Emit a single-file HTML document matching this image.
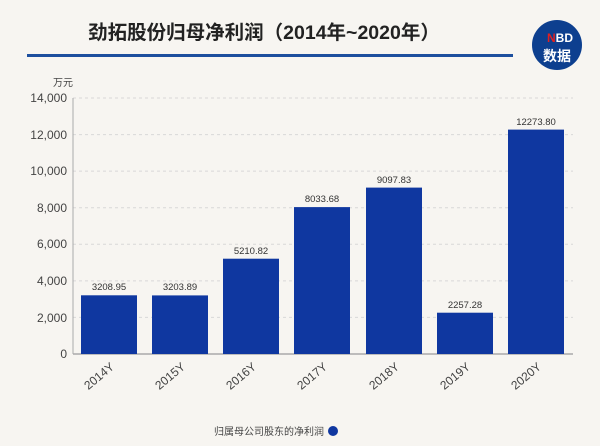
<!DOCTYPE html><html><head><meta charset="utf-8"><style>
body{margin:0;width:600px;height:446px;background:#f7f5f1;overflow:hidden;font-family:"Liberation Sans","Noto Sans CJK SC",sans-serif}
</style></head><body>
<svg width="600" height="446" xmlns="http://www.w3.org/2000/svg" style="position:absolute;left:0;top:0">
<rect x="0" y="0" width="600" height="446" fill="#f7f5f1"/>
<text x="264" y="39" text-anchor="middle" font-size="19.5" font-weight="bold" fill="#222" font-family="Liberation Sans,Noto Sans CJK SC,sans-serif">劲拓股份归母净利润（2014年~2020年）</text>
<rect x="27" y="54" width="486" height="3" fill="#1d4f9e"/>
<circle cx="557" cy="45" r="25" fill="#0d3f8f"/>
<text x="560" y="42" text-anchor="middle" font-size="12" font-weight="bold" fill="#fff" font-family="Liberation Sans,sans-serif"><tspan fill="#e02020">N</tspan>BD</text>
<text x="557" y="61" text-anchor="middle" font-size="14" font-weight="bold" fill="#fff" font-family="Noto Sans CJK SC,sans-serif">数据</text>
<text x="73" y="86" text-anchor="end" font-size="10" fill="#444" font-family="Noto Sans CJK SC,sans-serif">万元</text>
<g stroke="#d8d8d8" stroke-dasharray="3,3" stroke-width="1">
<line x1="73" x2="573" y1="98" y2="98"/><line x1="73" x2="573" y1="134.6" y2="134.6"/><line x1="73" x2="573" y1="171.1" y2="171.1"/><line x1="73" x2="573" y1="207.7" y2="207.7"/><line x1="73" x2="573" y1="244.3" y2="244.3"/><line x1="73" x2="573" y1="280.9" y2="280.9"/><line x1="73" x2="573" y1="317.4" y2="317.4"/>
</g>
<line x1="73" x2="73" y1="98" y2="354" stroke="#aaa"/>
<line x1="73" x2="573" y1="354" y2="354" stroke="#aaa" stroke-width="1.5"/>
<g font-size="12" fill="#444" text-anchor="end">
<text x="67" y="102">14,000</text><text x="67" y="139">12,000</text><text x="67" y="175">10,000</text><text x="67" y="212">8,000</text><text x="67" y="248">6,000</text><text x="67" y="285">4,000</text><text x="67" y="322">2,000</text><text x="67" y="358">0</text>
</g>
<g fill="#0f37a0">
<rect x="81" y="295.3" width="56" height="58.7"/>
<rect x="152" y="295.4" width="56" height="58.6"/>
<rect x="223" y="258.7" width="56" height="95.3"/>
<rect x="294" y="207.1" width="56" height="146.9"/>
<rect x="366" y="187.6" width="56" height="166.4"/>
<rect x="437" y="312.7" width="56" height="41.3"/>
<rect x="508" y="129.6" width="56" height="224.4"/>
</g>
<g font-size="9.5" fill="#333" text-anchor="middle">
<text x="109" y="290">3208.95</text><text x="180" y="290">3203.89</text><text x="251" y="254">5210.82</text><text x="322" y="202">8033.68</text><text x="394" y="183">9097.83</text><text x="465" y="308">2257.28</text><text x="536" y="125">12273.80</text>
</g>
<g font-size="12" fill="#444" text-anchor="end">
<text transform="translate(115,368) rotate(-40)">2014Y</text>
<text transform="translate(186,368) rotate(-40)">2015Y</text>
<text transform="translate(257,368) rotate(-40)">2016Y</text>
<text transform="translate(328,368) rotate(-40)">2017Y</text>
<text transform="translate(400,368) rotate(-40)">2018Y</text>
<text transform="translate(471,368) rotate(-40)">2019Y</text>
<text transform="translate(542,368) rotate(-40)">2020Y</text>
</g>
<text x="324" y="435" text-anchor="end" font-size="10" fill="#444" font-family="Noto Sans CJK SC,sans-serif">归属母公司股东的净利润</text>
<circle cx="333" cy="431" r="5" fill="#0f37a0"/>
</svg>
</body></html>
